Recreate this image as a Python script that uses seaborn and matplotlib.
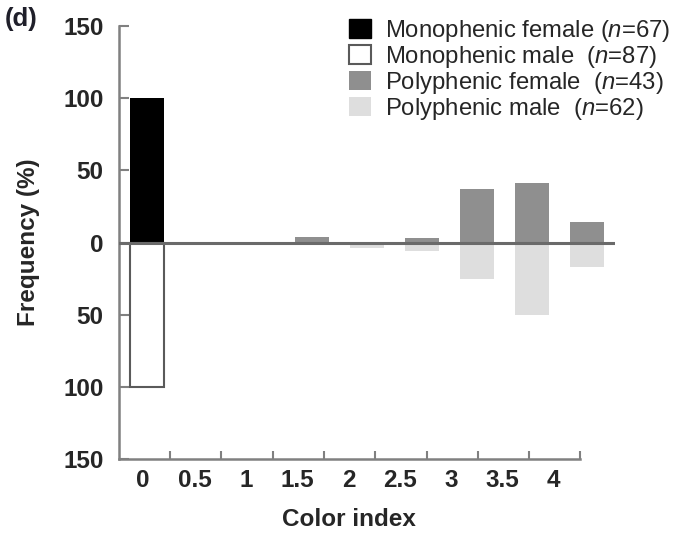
import numpy as np
import pandas as pd
import matplotlib
matplotlib.use("Agg")
import matplotlib.pyplot as plt
import seaborn as sns
from matplotlib.patches import Patch

sns.set_theme(style="white")
plt.rcParams['font.family'] = ['Liberation Sans', 'DejaVu Sans']
plt.rcParams['mathtext.fontset'] = 'custom'
plt.rcParams['mathtext.rm'] = 'Liberation Sans'
plt.rcParams['mathtext.it'] = 'Liberation Sans:italic'

# ---- data ----
color_index = ["0", "0.5", "1", "1.5", "2", "2.5", "3", "3.5", "4"]
mono_female = [100, 0, 0, 0, 0, 0, 0, 0, 0]
mono_male = [100, 0, 0, 0, 0, 0, 0, 0, 0]
poly_female = [0, 0, 0, 4, 0, 3, 37, 41, 14]
poly_male = [0, 0, 0, 0, 4, 6, 25, 50, 17]
series_names = ["Monophenic female ($\\mathit{n}$=67)",
                "Monophenic male  ($\\mathit{n}$=87)",
                "Polyphenic female  ($\\mathit{n}$=43)",
                "Polyphenic male  ($\\mathit{n}$=62)"]
y_ticks = [-150, -100, -50, 0, 50, 100, 150]
y_ticklabels = ["150", "100", "50", "0", "50", "100", "150"]

FS = 17.5

fig = plt.figure(figsize=(6.83, 5.34), dpi=100)
ax = fig.add_axes([119/683, 1-459/534, (615-119)/683, (459-26)/534])

W = 0.62
up_df = pd.DataFrame({"ci": color_index, "pf": poly_female, "mf": mono_female})
dn_df = pd.DataFrame({"ci": color_index, "pm": [-v for v in poly_male],
                      "mm": [-v for v in mono_male]})

sns.barplot(data=up_df, x="ci", y="pf", order=color_index, color="#8f8f8f",
            width=W, saturation=1, ax=ax, linewidth=0)
sns.barplot(data=dn_df, x="ci", y="pm", order=color_index, color="#dedede",
            width=W, saturation=1, ax=ax, linewidth=0)
sns.barplot(data=up_df.iloc[:1], x="ci", y="mf", order=color_index, color="black",
            width=W, saturation=1, ax=ax, linewidth=0)
sns.barplot(data=dn_df.iloc[:1], x="ci", y="mm", order=color_index, color="white",
            width=W, saturation=1, ax=ax, edgecolor="#5a5a5a", linewidth=1.5)

ax.axhline(0, color="#6a6a6a", lw=2.2, zorder=5)

ax.set_xlim(-0.51, 8.51)
ax.set_ylim(-150, 150)

# tick labels (offset from bars as in the reference) and boundary tick marks
n = len(color_index)
label_pos = [-0.07 + 0.933 * k for k in range(n)]
mark_pos = [0.418 + 0.933 * k for k in range(n)]
ax.set_xticks(label_pos)
ax.set_xticklabels(color_index, fontsize=FS, fontweight="bold")
ax.set_xticks(mark_pos, minor=True)
ax.tick_params(axis="x", which="major", length=0, pad=7)
ax.tick_params(axis="x", which="minor", direction="in", length=6, width=1.5,
               color="#808080", bottom=True)

ax.set_yticks(y_ticks)
ax.set_yticklabels(y_ticklabels, fontsize=FS, fontweight="bold")
ax.tick_params(axis="y", direction="in", length=7, width=1.5, color="#808080",
               pad=11, left=True)

for s in ["top", "right"]:
    ax.spines[s].set_visible(False)
for s in ["left", "bottom"]:
    ax.spines[s].set_color("#808080")
    ax.spines[s].set_linewidth(1.8)
ax.spines["bottom"].set_bounds(-0.51, mark_pos[-1])

ax.set_xlabel("Color index", fontsize=FS, fontweight="bold")
ax.xaxis.set_label_coords(0.464, -0.113)
ax.set_ylabel("Frequency (%)", fontsize=FS, fontweight="bold", labelpad=17)

fig.text(5/683, 1-19/534, "(d)", fontsize=18.5, fontweight="bold", color="#1f1f2a",
         va="center", ha="left")

handles = [Patch(facecolor="black", edgecolor="black"),
           Patch(facecolor="white", edgecolor="#5a5a5a", linewidth=1.5),
           Patch(facecolor="#8f8f8f", edgecolor="none"),
           Patch(facecolor="#dedede", edgecolor="none")]
fig.legend(handles, series_names, loc="upper left",
           bbox_to_anchor=(349/683, 1-18/534), frameon=False, fontsize=17.2,
           handlelength=0.9, handleheight=0.82, handletextpad=0.6,
           labelspacing=0.0, borderpad=0, borderaxespad=0)

fig.savefig("out.png", dpi=100)
